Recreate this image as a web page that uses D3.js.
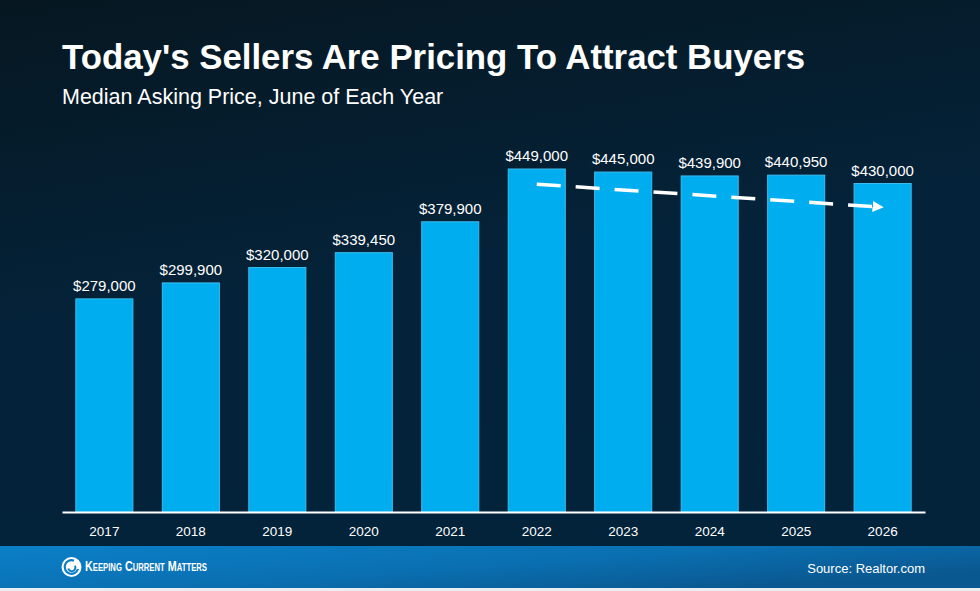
<!DOCTYPE html>
<html>
<head>
<meta charset="utf-8">
<script src="https://cdn.jsdelivr.net/npm/d3@7"></script>
<style>
  html, body { margin: 0; padding: 0; background: #061a26; }
  svg { display: block; font-family: "Liberation Sans", Arial, sans-serif; }
</style>
</head>
<body>
<div id="chart"></div>
<script>
// chart data
var years = ["2017", "2018", "2019", "2020", "2021", "2022", "2023", "2024", "2025", "2026"];
var prices = [279000, 299900, 320000, 339450, 379900, 449000, 445000, 439900, 440950, 430000];
// dashed trend arrow, 2022 -> 2026
var trendYears = ["2022", "2026"];
var trendValues = [429000, 399000];

var W = 980, H = 591;

var svg = d3.select("#chart")
  .append("svg")
    .attr("width", W)
    .attr("height", H);

var defs = svg.append("defs");

// background gradient
var bg = defs.append("linearGradient")
    .attr("id", "bg").attr("x1", 0).attr("y1", 0).attr("x2", 0.25).attr("y2", 1);
bg.append("stop").attr("offset", "0%").attr("stop-color", "#061721");
bg.append("stop").attr("offset", "55%").attr("stop-color", "#04233a");
bg.append("stop").attr("offset", "100%").attr("stop-color", "#03233b");

var foot = defs.append("linearGradient")
    .attr("id", "foot").attr("x1", 0).attr("y1", 0).attr("x2", 1).attr("y2", 0.6);
foot.append("stop").attr("offset", "0%").attr("stop-color", "#0b80c8");
foot.append("stop").attr("offset", "55%").attr("stop-color", "#0a70b2");
foot.append("stop").attr("offset", "100%").attr("stop-color", "#0a5890");

svg.append("rect").attr("width", W).attr("height", H).attr("fill", "url(#bg)");

// footer band
svg.append("rect").attr("x", 0).attr("y", 546).attr("width", W).attr("height", 42)
  .attr("fill", "url(#foot)");
svg.append("rect").attr("x", 0).attr("y", 588).attr("width", W).attr("height", 3)
  .attr("fill", "#e9eef2");

// titles
svg.append("text")
  .attr("x", 62).attr("y", 69)
  .attr("fill", "#fff")
  .attr("font-size", 34.8)
  .attr("font-weight", "bold")
  .text("Today's Sellers Are Pricing To Attract Buyers");

svg.append("text")
  .attr("x", 62).attr("y", 104)
  .attr("fill", "#fff")
  .attr("font-size", 21.5)
  .text("Median Asking Price, June of Each Year");

// scales
var x = d3.scaleBand()
  .domain(years)
  .range([62, 925])
  .paddingInner(0.34)
  .paddingOuter(0.16);

var y = d3.scaleLinear()
  .domain([0, 449000])
  .range([512, 169]);

// bars
svg.selectAll("rect.bar")
  .data(prices)
  .enter()
  .append("rect")
    .attr("class", "bar")
    .attr("x", function(d, i) { return x(years[i]); })
    .attr("y", function(d) { return y(d); })
    .attr("width", x.bandwidth())
    .attr("height", function(d) { return y(0) - y(d); })
    .attr("fill", "#00adee")
    .attr("stroke", "#3dbdf0")
    .attr("stroke-width", 1);

// value labels
svg.selectAll("text.val")
  .data(prices)
  .enter()
  .append("text")
    .attr("class", "val")
    .attr("x", function(d, i) { return x(years[i]) + x.bandwidth() / 2; })
    .attr("y", function(d) { return y(d) - 8; })
    .attr("text-anchor", "middle")
    .attr("fill", "#fff")
    .attr("font-size", 15)
    .text(function(d) { return "$" + d3.format(",")(d); });

// x axis
var xAxis = svg.append("g")
  .attr("transform", "translate(0," + y(0) + ")")
  .call(d3.axisBottom(x).tickSize(0).tickPadding(14));
xAxis.select(".domain").attr("stroke", "#fff").attr("stroke-width", 2);
xAxis.selectAll("text")
  .attr("fill", "#fff")
  .attr("font-size", 13.5)
  .attr("font-family", "Liberation Sans, Arial, sans-serif");

// dashed trend arrow
defs.append("marker")
    .attr("id", "arrow")
    .attr("viewBox", "0 0 10 10")
    .attr("refX", 9).attr("refY", 5)
    .attr("markerWidth", 3.2).attr("markerHeight", 3.2)
    .attr("orient", "auto")
  .append("path")
    .attr("d", "M0,0 L10,5 L0,10 Z")
    .attr("fill", "#fff");

var tx = function(yr) { return x(yr) + x.bandwidth() / 2; };
svg.append("line")
  .attr("x1", tx(trendYears[0])).attr("y1", y(trendValues[0]))
  .attr("x2", tx(trendYears[1])).attr("y2", y(trendValues[1]))
  .attr("stroke", "#fff")
  .attr("stroke-width", 3.5)
  .attr("stroke-dasharray", "24,15")
  .attr("marker-end", "url(#arrow)");

// footer logo
var logo = svg.append("g").attr("transform", "translate(71.5,567)");
logo.append("circle").attr("r", 10).attr("fill", "#fff");
logo.append("path")
  .attr("d", "M6.5,2 A6.8,6.8 0 1 1 2.5,-6.3")
  .attr("fill", "none").attr("stroke", "#0b7ec6").attr("stroke-width", 2.2);
logo.append("path")
  .attr("d", "M-3.2,1.5 A3.6,3.6 0 1 0 3.4,-1.2")
  .attr("fill", "none").attr("stroke", "#0b7ec6").attr("stroke-width", 2);

svg.append("text")
  .attr("x", 85).attr("y", 571)
  .attr("fill", "#fff")
  .attr("font-size", 14)
  .attr("font-weight", "bold")
  .style("font-variant", "small-caps")
  .attr("textLength", 122)
  .attr("lengthAdjust", "spacingAndGlyphs")
  .text("Keeping Current Matters");

svg.append("text")
  .attr("x", 925).attr("y", 573)
  .attr("text-anchor", "end")
  .attr("fill", "#fff")
  .attr("font-size", 13)
  .text("Source: Realtor.com");
</script>
</body>
</html>
